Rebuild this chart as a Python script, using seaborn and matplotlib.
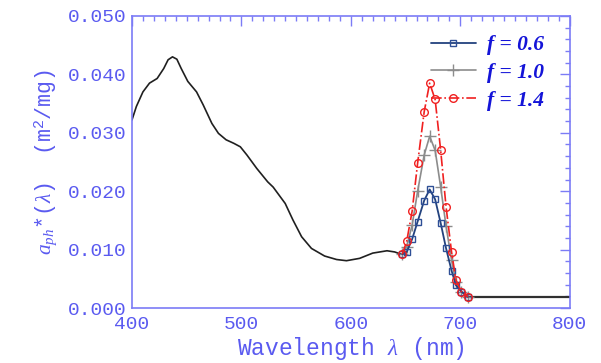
import numpy as np
import pandas as pd
import matplotlib
matplotlib.use("Agg")
import matplotlib.pyplot as plt
from matplotlib.ticker import MultipleLocator, FormatStrFormatter
import seaborn as sns

# ---- data ----
base_wl = [400, 404, 410, 416, 423, 429, 433, 437, 441, 445, 451, 459, 465, 473,
           479, 486, 493, 499, 505, 514, 524, 529, 540, 547, 555, 564, 576, 587,
           596, 608, 620, 633, 640, 646]
base_val = [0.0322, 0.0345, 0.0370, 0.0385, 0.0393, 0.0410, 0.0425, 0.0430, 0.0426,
            0.0410, 0.0388, 0.0370, 0.0348, 0.0316, 0.0299, 0.0288, 0.0282, 0.0276,
            0.0262, 0.0239, 0.0216, 0.0207, 0.0179, 0.0151, 0.0122, 0.0102, 0.0089,
            0.0083, 0.0081, 0.0085, 0.0094, 0.0098, 0.0096, 0.0092]
tail_wl = [707, 800]
tail_val = [0.0019, 0.0019]

f_wl = [647, 651, 656, 661, 667, 672, 677, 682, 687, 692, 696, 701, 707]
f06 = [0.0092, 0.0096, 0.0118, 0.0148, 0.0184, 0.0203, 0.0186, 0.0146, 0.0102,
       0.0064, 0.0039, 0.0028, 0.0019]
f10 = [0.0092, 0.0105, 0.0142, 0.0200, 0.0262, 0.0294, 0.0270, 0.0208, 0.0140,
       0.0082, 0.0044, 0.0028, 0.0019]
f14 = [0.0092, 0.0114, 0.0166, 0.0248, 0.0336, 0.0385, 0.0357, 0.0271, 0.0173,
       0.0096, 0.0048, 0.0028, 0.0019]
labels = ["f = 0.6", "f = 1.0", "f = 1.4"]

x_ticks = [400, 500, 600, 700, 800]
y_ticks = [0.000, 0.010, 0.020, 0.030, 0.040, 0.050]

# ---- style ----
sns.set_style("white")
plt.rcParams["font.family"] = ["Liberation Mono", "DejaVu Sans"]
plt.rcParams["mathtext.fontset"] = "custom"
plt.rcParams["mathtext.rm"] = "Liberation Mono"
plt.rcParams["mathtext.it"] = "Liberation Serif:italic"

axis_col = "#7c7cf6"
text_col = "#5a5af0"

fig = plt.figure(figsize=(6.01, 3.63), dpi=100)
ax = fig.add_axes([0.2196, 0.1515, 0.7284, 0.8045])

sns.lineplot(x=base_wl, y=base_val, ax=ax, color="#202020", lw=1.2, sort=False,
             solid_joinstyle="round")
sns.lineplot(x=tail_wl, y=tail_val, ax=ax, color="#303030", lw=1.6, sort=False)

sns.lineplot(x=f_wl, y=f10, ax=ax, color="#8c8c8c", lw=1.2, marker="+",
             markersize=8, markeredgewidth=1.0, markeredgecolor="#8c8c8c",
             label=labels[1], sort=False)
sns.lineplot(x=f_wl, y=f06, ax=ax, color="#23427e", lw=1.3, marker="s",
             markersize=5, markerfacecolor="none", markeredgecolor="#2e4f96",
             markeredgewidth=1.0, label=labels[0], sort=False)
sns.lineplot(x=f_wl, y=f14, ax=ax, color="#f02020", lw=1.2, linestyle="-.",
             marker="o", markersize=5.5, markerfacecolor="none",
             markeredgecolor="#f02020", markeredgewidth=1.0, label=labels[2], sort=False)

ax.set_xlim(400, 800)
ax.set_ylim(0, 0.05)
ax.set_xticks(x_ticks)
ax.set_yticks(y_ticks)
ax.yaxis.set_major_formatter(FormatStrFormatter("%.3f"))
ax.xaxis.set_minor_locator(MultipleLocator(10))
ax.yaxis.set_minor_locator(MultipleLocator(0.002))
ax.tick_params(which="both", direction="in", top=True, right=True, colors=axis_col,
               labelcolor=text_col, labelsize=14)
ax.tick_params(which="major", length=7, width=1)
ax.tick_params(which="minor", length=3.5, width=1)
ax.tick_params(axis="x", which="major", pad=6)
ax.tick_params(axis="y", which="major", pad=4)
for s in ax.spines.values():
    s.set_color(axis_col)
    s.set_linewidth(1.2)

ax.set_xlabel("Wavelength $\\mathit{\\lambda}$ (nm)", fontsize=16.5, color=text_col, labelpad=1)
ax.set_ylabel("$\\mathit{a}_{\\mathit{ph}}$*($\\mathit{\\lambda}$)  (m$^2$/mg)",
              fontsize=15.5, color=text_col, labelpad=6)

h, l = ax.get_legend_handles_labels()
order = [l.index(x) for x in labels]
leg = ax.legend([h[i] for i in order], [l[i] for i in order], loc="upper right",
                frameon=False, handlelength=2.1, handletextpad=0.5, labelspacing=0.35,
                bbox_to_anchor=(0.985, 1.0),
                prop={"family": "Liberation Serif", "weight": "bold", "style": "italic", "size": 15.5})
for t in leg.get_texts():
    t.set_color("#1414d8")

fig.savefig("out.png", dpi=100)
